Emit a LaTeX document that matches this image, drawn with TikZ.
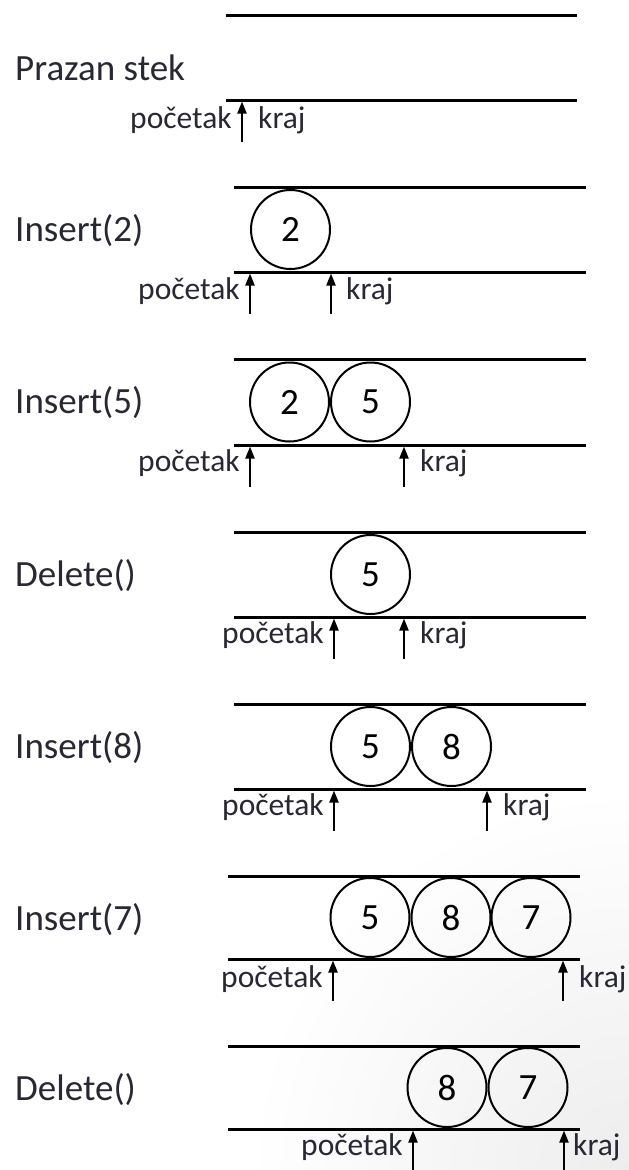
\documentclass[tikz,border=0pt]{standalone}
\usepackage{fontspec}
\setmainfont{Carlito}
\usetikzlibrary{arrows.meta}
\definecolor{ink}{RGB}{40,40,52}
\tikzset{
  rail/.style={line width=3pt, black},
  cell/.style={circle, draw=black, line width=2pt, minimum size=79pt, inner sep=0pt,
               font=\fontsize{37}{40}\selectfont, text=black},
  oplabel/.style={anchor=base west, inner sep=0pt, text=ink, font=\fontsize{37}{40}\selectfont},
  ptrlabelL/.style={anchor=mid east, inner sep=0pt, text=ink, font=\fontsize{31.5}{34}\selectfont},
  ptrlabelR/.style={anchor=mid west, inner sep=0pt, text=ink, font=\fontsize{31.5}{34}\selectfont},
  pointer/.style={line width=2pt, black, -{Triangle[length=12pt,width=9pt]}}
}
\begin{document}
\begin{tikzpicture}[x=1pt, y=-1pt]
  \useasboundingbox (0,0) rectangle (629,1170);
  % soft corner tint of the slide background
  \begin{scope}
    \clip (0,0) rectangle (629,1170);
    \shade[inner color=black!7, outer color=white] (629,1170) circle (380);
  \end{scope}

  % ---- Prazan stek ----
  \coordinate (a1) at (226,15);  \coordinate (a2) at (577,15);
  \coordinate (a3) at (226,100); \coordinate (a4) at (577,100);
  \draw[rail] (a1) -- (a2); \draw[rail] (a3) -- (a4);
  \node[oplabel] (la) at (15,80.6) {Prazan stek};
  \coordinate (ap0) at (242,142); \coordinate (ap1) at (242,101.5);
  \draw[pointer] (ap0) -- (ap1);
  \node[ptrlabelL] (apl) at (232,126) {početak};
  \node[ptrlabelR] (akl) at (258,126) {kraj};

  % ---- Insert(2) ----
  \coordinate (b1) at (234,187); \coordinate (b2) at (586,187);
  \coordinate (b3) at (234,272); \coordinate (b4) at (586,272);
  \draw[rail] (b1) -- (b2); \draw[rail] (b3) -- (b4);
  \node[oplabel] (lb) at (15,241) {Insert(2)};
  \node[cell] (b2c) at (290.5,229.5) {2};
  \coordinate (bp0) at (250,314); \coordinate (bp1) at (250,273.5);
  \coordinate (bk0) at (331,314); \coordinate (bk1) at (331,273.5);
  \draw[pointer] (bp0) -- (bp1); \draw[pointer] (bk0) -- (bk1);
  \node[ptrlabelL] (bpl) at (240,297) {početak};
  \node[ptrlabelR] (bkl) at (346,297) {kraj};

  % ---- Insert(5) ----
  \coordinate (c1) at (234,359); \coordinate (c2) at (586,359);
  \coordinate (c3) at (234,445); \coordinate (c4) at (586,445);
  \draw[rail] (c1) -- (c2); \draw[rail] (c3) -- (c4);
  \node[oplabel] (lc) at (15,413.6) {Insert(5)};
  \node[cell] (c2c) at (289.5,402) {2};
  \node[cell] (c5c) at (370.5,402) {5};
  \coordinate (cp0) at (250,487); \coordinate (cp1) at (250,446.5);
  \coordinate (ck0) at (404,487); \coordinate (ck1) at (404,446.5);
  \draw[pointer] (cp0) -- (cp1); \draw[pointer] (ck0) -- (ck1);
  \node[ptrlabelL] (cpl) at (240,469) {početak};
  \node[ptrlabelR] (ckl) at (420,469) {kraj};

  % ---- Delete() ----
  \coordinate (d1) at (234,532); \coordinate (d2) at (586,532);
  \coordinate (d3) at (234,617); \coordinate (d4) at (586,617);
  \draw[rail] (d1) -- (d2); \draw[rail] (d3) -- (d4);
  \node[oplabel] (ld) at (15,586) {Delete()};
  \node[cell] (d5c) at (370.5,574.5) {5};
  \coordinate (dp0) at (334,659); \coordinate (dp1) at (334,618.5);
  \coordinate (dk0) at (404,659); \coordinate (dk1) at (404,618.5);
  \draw[pointer] (dp0) -- (dp1); \draw[pointer] (dk0) -- (dk1);
  \node[ptrlabelL] (dpl) at (324,641) {početak};
  \node[ptrlabelR] (dkl) at (420,641) {kraj};

  % ---- Insert(8) ----
  \coordinate (e1) at (234,704); \coordinate (e2) at (586,704);
  \coordinate (e3) at (234,789); \coordinate (e4) at (586,789);
  \draw[rail] (e1) -- (e2); \draw[rail] (e3) -- (e4);
  \node[oplabel] (le) at (15,758) {Insert(8)};
  \node[cell] (e5c) at (370.5,746.5) {5};
  \node[cell] (e8c) at (451.5,746.5) {8};
  \coordinate (ep0) at (334,831); \coordinate (ep1) at (334,790.5);
  \coordinate (ek0) at (487,831); \coordinate (ek1) at (487,790.5);
  \draw[pointer] (ep0) -- (ep1); \draw[pointer] (ek0) -- (ek1);
  \node[ptrlabelL] (epl) at (324,813) {početak};
  \node[ptrlabelR] (ekl) at (503,813) {kraj};

  % ---- Insert(7) ----
  \coordinate (f1) at (228,876); \coordinate (f2) at (580,876);
  \coordinate (f3) at (228,959); \coordinate (f4) at (580,959);
  \draw[rail] (f1) -- (f2); \draw[rail] (f3) -- (f4);
  \node[oplabel] (lf) at (15,930) {Insert(7)};
  \node[cell] (f5c) at (370,917.5) {5};
  \node[cell] (f8c) at (451,917.5) {8};
  \node[cell] (f7c) at (531,917.5) {7};
  \coordinate (fp0) at (333,1001); \coordinate (fp1) at (333,960.5);
  \coordinate (fk0) at (563,1001); \coordinate (fk1) at (563,960.5);
  \draw[pointer] (fp0) -- (fp1); \draw[pointer] (fk0) -- (fk1);
  \node[ptrlabelL] (fpl) at (323,985) {početak};
  \node[ptrlabelR] (fkl) at (579,985) {kraj};

  % ---- Delete() ----
  \coordinate (g1) at (228,1046); \coordinate (g2) at (580,1046);
  \coordinate (g3) at (228,1129); \coordinate (g4) at (580,1129);
  \draw[rail] (g1) -- (g2); \draw[rail] (g3) -- (g4);
  \node[oplabel] (lg) at (15,1100) {Delete()};
  \node[cell] (g8c) at (447,1087.5) {8};
  \node[cell] (g7c) at (528,1087.5) {7};
  \coordinate (gp0) at (413,1171); \coordinate (gp1) at (413,1130.5);
  \coordinate (gk0) at (564,1171); \coordinate (gk1) at (564,1130.5);
  \draw[pointer] (gp0) -- (gp1); \draw[pointer] (gk0) -- (gk1);
  \node[ptrlabelL] (gpl) at (403,1153) {početak};
  \node[ptrlabelR] (gkl) at (573,1153) {kraj};
\end{tikzpicture}
\end{document}
